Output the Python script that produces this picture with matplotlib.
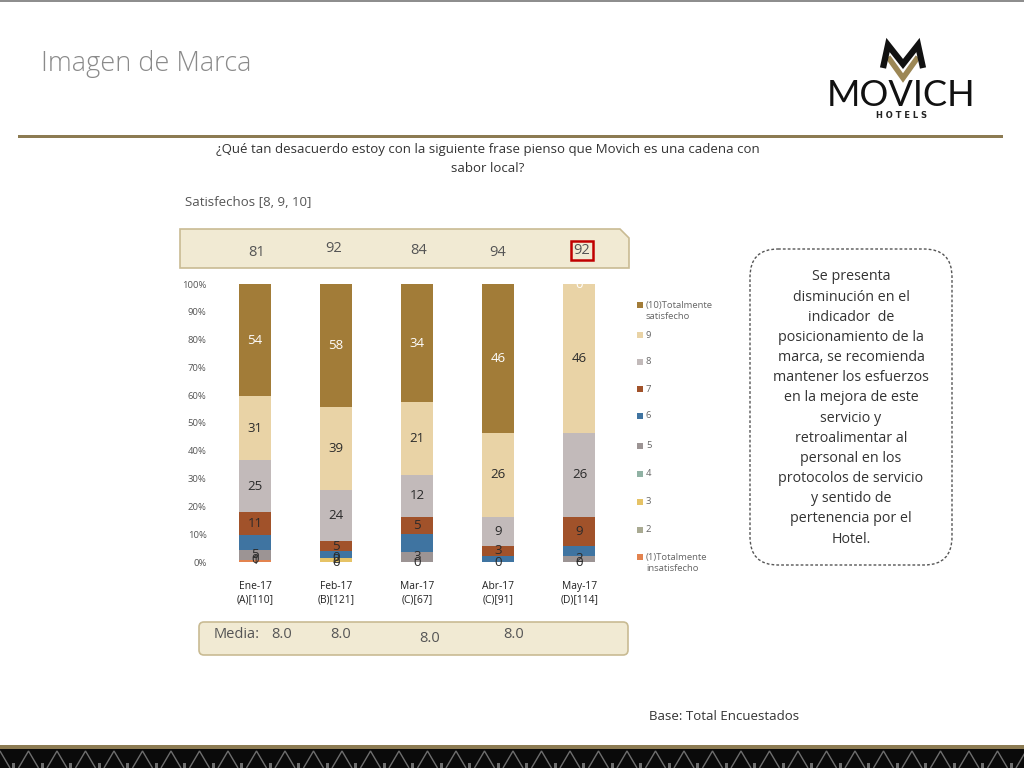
import matplotlib
matplotlib.use("Agg")
import matplotlib.pyplot as plt
from matplotlib.patches import FancyBboxPatch, Polygon, Rectangle
import numpy as np

# ---------------- data ----------------
months = ["Ene-17\n(A)[110]", "Feb-17\n(B)[121]", "Mar-17\n(C)[67]", "Abr-17\n(C)[91]", "May-17\n(D)[114]"]
categories = ["(10)Totalmente\nsatisfecho", "9", "8", "7", "6", "5", "4", "3", "2", "(1)Totalmente\ninsatisfecho"]
c10 = [54, 58, 34, 46, 0]
c9 = [31, 39, 21, 26, 46]
c8 = [25, 24, 12, 9, 26]
c7 = [11, 5, 5, 3, 9]
c6 = [7, 3, 5, 2, 3]
c5 = [5, 0, 3, 0, 2]
c4 = [0, 0, 0, 0, 0]
c3 = [0, 2, 0, 0, 0]
c2 = [0, 0, 0, 0, 0]
c1 = [1, 0, 0, 0, 0]
satisfechos = ["81", "92", "84", "94", "92"]
medias = ["8.0", "8.0", "8.0", "8.0"]

colors = ["#A27C38", "#E9D3A6", "#C2BABA", "#A1522A", "#3F74A1",
          "#9C9494", "#90B2A4", "#E6C366", "#A9AA92", "#E3834F"]

series = [c10, c9, c8, c7, c6, c5, c4, c3, c2, c1]

W, H = 1024, 768
fig = plt.figure(figsize=(W / 100, H / 100), dpi=100)
fig.patch.set_facecolor("white")

ov = fig.add_axes([0, 0, 1, 1], zorder=0)
ov.set_xlim(0, W)
ov.set_ylim(H, 0)
ov.axis("off")

FONT = "Open Sans"

# top thin border
ov.add_patch(Rectangle((0, 0), W, 2, color="#8E8E8E", lw=0))
# title
ov.text(41, 64, "Imagen de Marca", fontsize=19.5, color="#8A8A8A", family=FONT,
        va="center", ha="left", fontweight="light")
# horizontal rule
ov.add_patch(Rectangle((18, 134.5), 985, 3.5, color="#8C7B52", lw=0))

# logo
ov.plot([888, 903, 918], [57, 78, 57], color="#9C8755", lw=4, solid_capstyle="butt", solid_joinstyle="miter")
ov.plot([883, 888, 903, 918, 923], [68, 45, 64, 45, 68], color="#111111", lw=4.5,
        solid_capstyle="butt", solid_joinstyle="miter")
ov.text(901, 96, "MOVICH", fontsize=26, color="#111111", family="Lato",
        ha="center", va="center", fontweight="normal")
ov.text(902, 116, "H O T E L S", fontsize=6, color="#222222", family="DejaVu Sans",
        ha="center", va="center", fontweight="bold")

# question
ov.text(488, 150, "¿Qué tan desacuerdo estoy con la siguiente frase pienso que Movich es una cadena con",
        fontsize=9.5, color="#333333", family=FONT, ha="center", va="center")
ov.text(488, 169, "sabor local?", fontsize=9.5, color="#333333", family=FONT, ha="center", va="center")
ov.text(185, 202, "Satisfechos [8, 9, 10]", fontsize=9.5, color="#555555", family=FONT,
        ha="left", va="center")

# satisfechos box (chamfered top-right corner)
box = Polygon([(180, 229), (620, 229), (629, 238), (629, 268), (180, 268)], closed=True,
              facecolor="#F1EAD3", edgecolor="#C9BB93", lw=1.2)
ov.add_patch(box)
sat_x = [257, 334, 419, 498, 582]
sat_y = [252, 249, 251, 253, 251]
for i, s in enumerate(satisfechos):
    ov.text(sat_x[i], sat_y[i], s, fontsize=10.5, color="#555555", family=FONT,
            ha="center", va="center")
ov.add_patch(Rectangle((571, 241), 22, 19, facecolor="none", edgecolor="#C00000", lw=1.8))

# media box
mb = FancyBboxPatch((199, 622), 429, 33, boxstyle="round,pad=0,rounding_size=5",
                    facecolor="#F1EAD3", edgecolor="#C9BB93", lw=1.2)
ov.add_patch(mb)
ov.text(214, 634, "Media:", fontsize=10.5, color="#555555", family=FONT, ha="left", va="center")
med_x = [282, 341, 430, 514]
med_y = [634, 634, 638, 634]
for i, m in enumerate(medias):
    ov.text(med_x[i], med_y[i], m, fontsize=10.5, color="#555555", family=FONT,
            ha="center", va="center")

# right comment box
cb = FancyBboxPatch((750, 249), 202, 316, boxstyle="round,pad=0,rounding_size=28",
                    facecolor="white", edgecolor="#555555", lw=1.0, linestyle=(0, (2, 1.5)))
ov.add_patch(cb)
comment = ("Se presenta\ndisminución en el\nindicador  de\nposicionamiento de la\nmarca, se recomienda\n"
           "mantener los esfuerzos\nen la mejora de este\nservicio y\nretroalimentar al\npersonal en los\n"
           "protocolos de servicio\ny sentido de\npertenencia por el\nHotel.")
ov.text(851, 408, comment, fontsize=10.3, color="#333333", family=FONT, ha="center", va="center",
        linespacing=1.47)

# base text
ov.text(649, 716, "Base: Total Encuestados", fontsize=9.5, color="#333333", family=FONT,
        ha="left", va="center")

# bottom stripe
ov.add_patch(Rectangle((0, 745), W, 4, color="#8C7B52", lw=0))
ov.add_patch(Rectangle((0, 749), W, 19, color="#0A0A0A", lw=0))
for x0 in np.arange(-10, W + 30, 28.5):
    ov.add_patch(Polygon([(x0, 768), (x0 + 10, 751), (x0 + 20, 768)], closed=False,
                         facecolor="none", edgecolor="#6E6E6E", lw=1.0))
    ov.add_patch(Rectangle((x0 + 22, 763), 3, 5, color="#6E6E6E", lw=0))

# legend (manual)
leg_y = [305, 335, 362, 389, 416, 446, 474, 502, 530, 557]
for i, cat in enumerate(categories):
    ov.add_patch(Rectangle((637, leg_y[i] - 3.5), 6, 6, color=colors[i], lw=0))
    yy = leg_y[i] + (6 if "\n" in cat else 0)
    ov.text(646, yy, cat, fontsize=6.8, color="#666666", family=FONT, ha="left", va="center",
            linespacing=1.15)

# ---------------- chart ----------------
ax = fig.add_axes([215 / W, (H - 562) / H, 405 / W, 278 / H], zorder=2)
ax.patch.set_alpha(0)
x = np.arange(len(months))
arr = np.array(series, dtype=float)  # rows: 10..1
totals = arr.sum(axis=0)
pct = arr / totals * 100

order = list(range(len(series)))[::-1]  # stack from (1) to (10)
bottom = np.zeros(len(months))
placed = set()
for idx in order:
    ax.bar(x, pct[idx], 0.395, bottom=bottom, color=colors[idx], lw=0, zorder=2)
    if categories[idx] != "6":
        for j in range(len(months)):
            v = series[idx][j]
            ypos = bottom[j] + pct[idx][j] / 2
            key = (j, round(ypos, 1), v)
            if key in placed:
                continue
            placed.add(key)
            col = "white" if idx == 0 else "#2A2A2A"
            ax.text(x[j], ypos, str(v), ha="center", va="center", fontsize=9.5,
                    color=col, family=FONT, zorder=3)
    bottom += pct[idx]

ax.set_xlim(-0.494, 4.5)
ax.set_ylim(0, 100)
ax.set_yticks(np.arange(0, 101, 10))
ax.set_yticklabels([f"{v}%" for v in range(0, 101, 10)], fontsize=6.8, color="#555555", family=FONT)
ax.set_xticks(x)
ax.set_xticklabels(months, fontsize=7.4, color="#222222", family=FONT, linespacing=1.2)
ax.tick_params(axis="both", length=0)
ax.tick_params(axis="y", pad=6)
ax.tick_params(axis="x", pad=14)
for sp in ax.spines.values():
    sp.set_visible(False)

fig.savefig("out.png", dpi=100, facecolor="white")
